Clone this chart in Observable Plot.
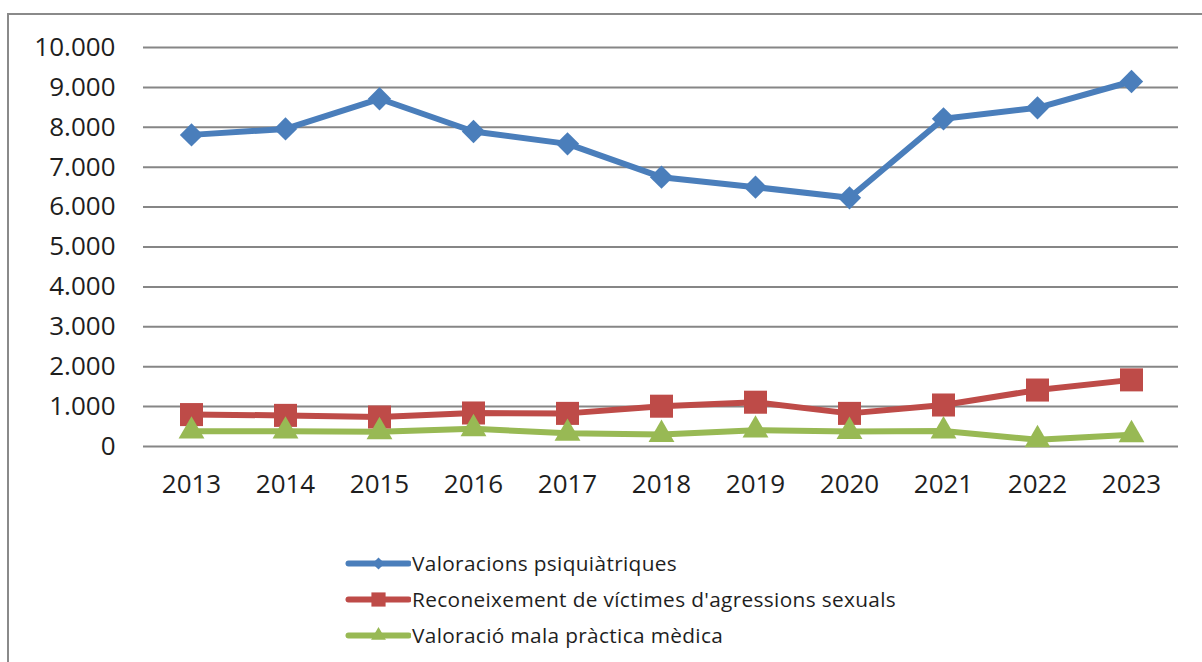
<!DOCTYPE html>
<html>
<head>
<meta charset="utf-8">
<script src="https://cdn.jsdelivr.net/npm/d3@7"></script>
<script src="https://cdn.jsdelivr.net/npm/@observablehq/plot@0.6"></script>
<style>
  html, body { margin: 0; padding: 0; background: #fff; }
  body { width: 1202px; height: 662px; position: relative; overflow: hidden; font-family: "Open Sans", sans-serif; }
  #frame { position: absolute; left: 7px; top: 13px; right: -4px; bottom: -4px; border-top: 2px solid #8a8a8a; border-left: 2px solid #8a8a8a; pointer-events: none; z-index: 2; }
  #chart { position: absolute; left: 0; top: 0; }
  #legend { position: absolute; left: 345px; top: 545px; color: #1e1e1e; font-size: 20.8px; letter-spacing: 0.35px; }
  .row { display: flex; align-items: center; height: 36px; }
  .row svg { display: block; margin-right: 1px; }
</style>
</head>
<body>
<div id="frame"></div>
<div id="chart"></div>
<div id="legend"></div>
<script>
const years = [2013, 2014, 2015, 2016, 2017, 2018, 2019, 2020, 2021, 2022, 2023];
const psiquiatriques = [7810, 7960, 8715, 7895, 7585, 6750, 6500, 6233, 8213, 8489, 9148];
const agressions = [800, 780, 740, 840, 830, 1010, 1110, 830, 1040, 1415, 1670];
const malaPractica = [385, 385, 370, 445, 330, 300, 410, 375, 390, 170, 295];
const yTicks = [0, 1000, 2000, 3000, 4000, 5000, 6000, 7000, 8000, 9000, 10000];

const seriesNames = [
  "Valoracions psiquiàtriques",
  "Reconeixement de víctimes d'agressions sexuals",
  "Valoració mala pràctica mèdica"
];
const seriesColors = ["#4A7EBB", "#BE4B48", "#98B954"];
const seriesSymbols = ["diamond2", "square", "triangle"];
const seriesR = [10.5, 13, 9.6];
const seriesValues = [psiquiatriques, agressions, malaPractica];

const fmt = d3.formatLocale({decimal: ",", thousands: ".", grouping: [3], currency: ["", ""]}).format(",");

const marks = [
  Plot.gridY(yTicks, {stroke: "#868686", strokeOpacity: 1, strokeWidth: 2}),
  Plot.axisY(yTicks, {tickSize: 0, tickPadding: 28, tickFormat: fmt, label: null, fontSize: 26}),
  Plot.axisX({tickSize: 0, tickPadding: 28, tickFormat: d => String(d), label: null, fontSize: 26})
];
seriesValues.forEach((vals, i) => {
  const data = years.map((y, j) => ({year: y, value: vals[j]}));
  marks.push(Plot.line(data, {x: "year", y: "value", stroke: seriesColors[i], strokeWidth: 6, strokeLinejoin: "round", strokeLinecap: "round"}));
});
seriesValues.forEach((vals, i) => {
  const data = years.map((y, j) => ({year: y, value: vals[j]}));
  marks.push(Plot.dot(data, {x: "year", y: "value", symbol: seriesSymbols[i], r: seriesR[i], fill: seriesColors[i], stroke: "none"}));
});

const plot = Plot.plot({
  width: 1202,
  height: 520,
  marginLeft: 143,
  marginRight: 24,
  marginTop: 47,
  marginBottom: 74,
  style: {fontFamily: "Open Sans", fontSize: "26px", color: "#1e1e1e", background: "transparent", overflow: "visible"},
  x: {type: "point", domain: years, padding: 0.5},
  y: {domain: [0, 10000]},
  marks
});
document.getElementById("chart").appendChild(plot);

// legend
const legend = document.getElementById("legend");
seriesNames.forEach((name, i) => {
  const row = document.createElement("div");
  row.className = "row";
  const sw = Plot.plot({
    width: 66, height: 20, margin: 0,
    x: {domain: [0, 1], range: [3, 63], axis: null},
    y: {domain: [0, 1], range: [10, 10], axis: null},
    style: {background: "transparent"},
    marks: [
      Plot.line([{x: 0, y: 0}, {x: 1, y: 0}], {x: "x", y: "y", stroke: seriesColors[i], strokeWidth: 6, strokeLinecap: "round"}),
      Plot.dot([{x: 0.5, y: 0}], {x: "x", y: "y", symbol: seriesSymbols[i], r: i === 1 ? 8 : 5.5, fill: seriesColors[i]})
    ]
  });
  row.appendChild(sw);
  const t = document.createElement("span");
  t.textContent = name;
  row.appendChild(t);
  legend.appendChild(row);
});
</script>
</body>
</html>
